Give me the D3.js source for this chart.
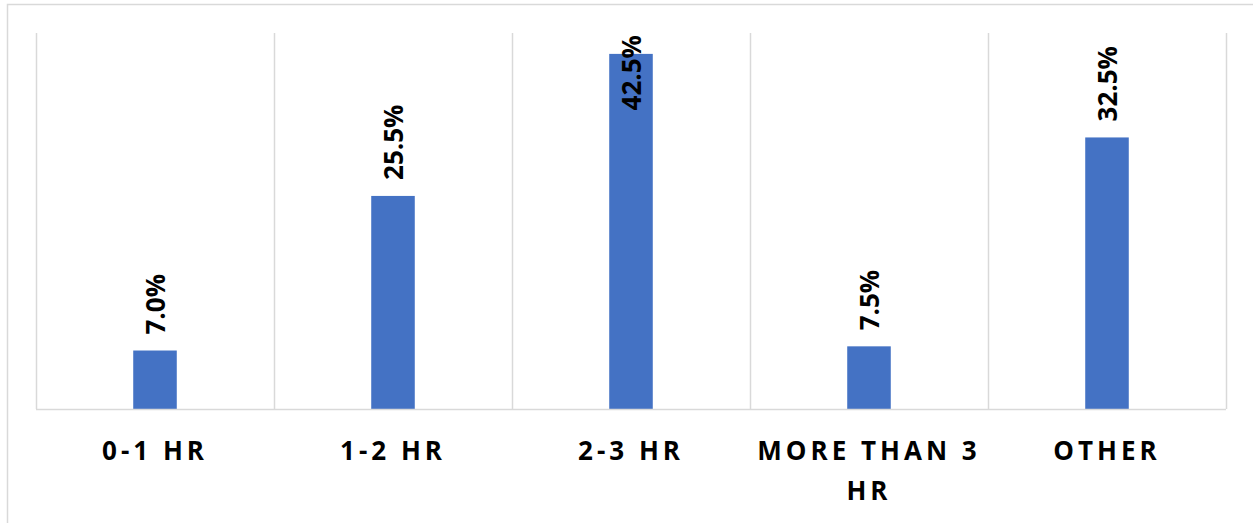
<!DOCTYPE html>
<html>
<head>
<meta charset="utf-8">
<script src="https://cdn.jsdelivr.net/npm/d3@7"></script>
<style>
  html, body { margin: 0; padding: 0; background: #fff; }
  svg { display: block; }
</style>
</head>
<body>
<script>
// Time categories and share of respondents (%)
const categories = ["0-1 HR", "1-2 HR", "2-3 HR", "MORE THAN 3 HR", "OTHER"];
const values = [7.0, 25.5, 42.5, 7.5, 32.5];
const yDomain = [0, 45];

const W = 1253, H = 523;
const margin = { top: 33, right: 27, bottom: 114, left: 36 };
const plotW = W - margin.left - margin.right;
const plotH = H - margin.top - margin.bottom;

const svg = d3.select("body").append("svg")
  .attr("width", W).attr("height", H);

// chart frame
svg.append("path")
  .attr("d", `M7.5,${H} V4.5 H${W}`)
  .attr("fill", "none")
  .attr("stroke", "#d9d9d9")
  .attr("stroke-width", 1.5);

const g = svg.append("g").attr("transform", `translate(${margin.left},${margin.top})`);

const x = d3.scaleBand().domain(categories).range([0, plotW]).paddingInner(0).paddingOuter(0);
const y = d3.scaleLinear().domain(yDomain).range([plotH, 0]);

// vertical gridlines at category boundaries
const bounds = categories.map(c => x(c)).concat([plotW]);
g.selectAll("line.grid").data(bounds).enter().append("line")
  .attr("class", "grid")
  .attr("x1", d => Math.round(d) + 0.5).attr("x2", d => Math.round(d) + 0.5)
  .attr("y1", 0).attr("y2", plotH)
  .attr("stroke", "#d9d9d9").attr("stroke-width", 1.5);

// bars
const barW = x.bandwidth() * 0.183;
g.selectAll("rect.bar").data(values).enter().append("rect")
  .attr("class", "bar")
  .attr("x", (d, i) => x(categories[i]) + x.bandwidth() / 2 - barW / 2)
  .attr("width", barW)
  .attr("y", d => y(d))
  .attr("height", d => plotH - y(d))
  .attr("fill", "#4472C4");

// category axis line
g.append("line")
  .attr("x1", 0).attr("x2", plotW)
  .attr("y1", plotH + 0.5).attr("y2", plotH + 0.5)
  .attr("stroke", "#d9d9d9").attr("stroke-width", 1.5);

// rotated value labels above the bars, kept inside the plot area
const labelFont = "bold 26px 'Open Sans', sans-serif";
g.selectAll("text.val").data(values).enter().append("text")
  .attr("class", "val")
  .style("font", labelFont)
  .attr("fill", "#000")
  .attr("text-anchor", "start")
  .attr("dominant-baseline", "central")
  .text(d => d.toFixed(1) + "%")
  .each(function (d, i) {
    const len = this.getComputedTextLength();
    const cx = x(categories[i]) + x.bandwidth() / 2;
    let start = y(d) - 16;
    if (start - len < 2) start = 2 + len;
    d3.select(this).attr("transform", `translate(${cx},${start}) rotate(-90)`);
  });

// category labels, wrapped to the band width
const catFont = "bold 26px 'Open Sans', sans-serif";
const catG = g.append("g").attr("transform", `translate(0,${plotH})`);
categories.forEach(c => {
  const t = catG.append("text")
    .attr("x", x(c) + x.bandwidth() / 2)
    .attr("y", 51)
    .attr("text-anchor", "middle")
    .style("font", catFont)
    .style("letter-spacing", "4px")
    .attr("fill", "#000");
  const words = c.split(" ");
  let line = [];
  let lineNo = 0;
  let tspan = t.append("tspan").attr("x", x(c) + x.bandwidth() / 2).attr("dy", 0);
  words.forEach(w => {
    line.push(w);
    tspan.text(line.join(" "));
    if (tspan.node().getComputedTextLength() > x.bandwidth() - 10 && line.length > 1) {
      line.pop();
      tspan.text(line.join(" "));
      line = [w];
      lineNo++;
      tspan = t.append("tspan").attr("x", x(c) + x.bandwidth() / 2).attr("dy", 40).text(w);
    }
  });
});
</script>
</body>
</html>
